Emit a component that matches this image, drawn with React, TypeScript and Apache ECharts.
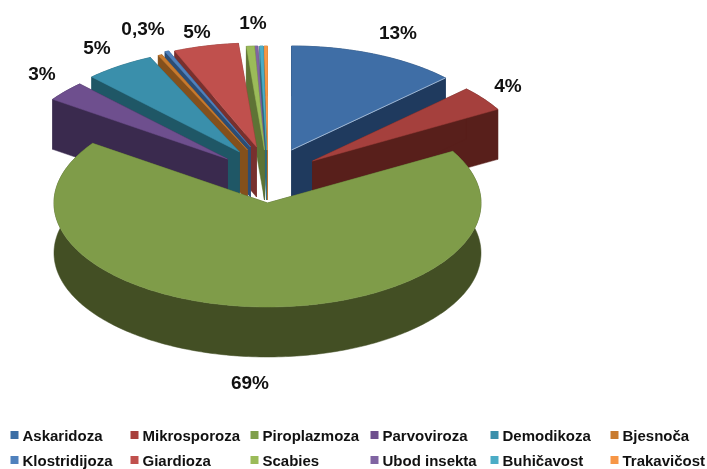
import React, { useEffect, useRef } from "react";
import * as echarts from "echarts";

const categories = ["Askaridoza", "Mikrosporoza", "Piroplazmoza", "Parvoviroza", "Demodikoza", "Bjesnoča", "Klostridijoza", "Giardioza", "Scabies", "Ubod insekta", "Buhičavost", "Trakavičost"];
const values = [12.8, 3.9, 67.9, 3.1, 5.3, 0.3, 0.3, 4.9, 0.6, 0.25, 0.25, 0.25];
const pointLabels = ["13%", "4%", "69%", "3%", "5%", "0,3%", "", "5%", "1%", "", "", ""];

const topColors = ["#3F6EA6", "#A5403D", "#7F9C49", "#6E4F8E", "#3A8FAB", "#C87A2E", "#4F81BD", "#C0504D", "#9BBB59", "#8064A2", "#4BACC6", "#F79646"];
const sideColors = ["#1F3A5E", "#581F1B", "#434F24", "#3A2A4E", "#1F5766", "#84501C", "#2C4D75", "#78302E", "#5E7335", "#4D3B62", "#2B6B7C", "#B66A22"];
const legendColors = ["#3B6EA5", "#A83F3C", "#7F9F4A", "#6E4F8E", "#3A8FAB", "#C87A2E", "#4F81BD", "#C0504D", "#9BBB59", "#8064A2", "#4BACC6", "#F79646"];
const explodeOffsets = [[24, -53], [45, -42], [0, 0], [-40, -44], [-28, -51], [-20, -53], [-17, -56], [-11, -56], [-3, -53], [-3, -53], [-1, -53], [0, -53]];
const labelAnchors = [[398, 32], [508, 85], [250, 382], [42, 73], [97, 47], [143, 28], [0, 0], [197, 31], [253, 22], [0, 0], [0, 0], [0, 0]];
const paintOrder = [11, 10, 9, 8, 7, 6, 5, 4, 3, 0, 1, 2];

const CX = 267.5, CY = 203, RX = 213.5, RY = 104, DEPTH = 50;
const total = values.reduce((s, v) => s + v, 0);
const starts: number[] = [];
values.reduce((acc, v, i) => { starts[i] = acc; return acc + v; }, 0);

function sliceShapes(index: number, value: number) {
  const [dx, dy] = explodeOffsets[index];
  const ox = CX + dx, oy = CY + dy;
  const a0 = (starts[index] / total) * Math.PI * 2;
  const a1 = a0 + (value / total) * Math.PI * 2;
  const n = Math.max(2, Math.ceil(((a1 - a0) * 180) / Math.PI));
  const arc: number[][] = [];
  for (let i = 0; i <= n; i++) {
    const t = a0 + ((a1 - a0) * i) / n;
    arc.push([ox + RX * Math.sin(t), oy - RY * Math.cos(t)]);
  }
  const down = (p: number[]) => [p[0], p[1] + DEPTH];
  const apex = [ox, oy];
  const first = arc[0], last = arc[arc.length - 1];
  return {
    apex,
    last,
    top: [apex, ...arc],
    faceStart: [apex, first, down(first), down(apex)],
    faceEnd: [apex, last, down(last), down(apex)],
    side: [...arc, ...arc.slice().reverse().map(down)],
  };
}

const font = "bold 19px 'Liberation Sans', Arial, sans-serif";

const series = paintOrder.map((i) => ({
  type: "custom",
  name: categories[i],
  coordinateSystem: "none",
  silent: true,
  itemStyle: { color: legendColors[i] },
  data: [[values[i]]],
  renderItem: (_p: any, api: any) => {
    const s = sliceShapes(i, api.value(0));
    const sideStyle = { fill: sideColors[i], stroke: sideColors[i], lineWidth: 0.5 };
    const children: any[] = [
      { type: "polygon", shape: { points: s.side }, style: sideStyle },
      { type: "polygon", shape: { points: s.faceEnd }, style: sideStyle },
      { type: "polygon", shape: { points: s.faceStart }, style: sideStyle },
      { type: "polygon", shape: { points: s.top }, style: { fill: topColors[i], stroke: topColors[i], lineWidth: 0.5 } },
    ];
    if (i === 0) {
      children.push({ type: "polyline", shape: { points: [s.apex, s.last] }, style: { stroke: "#9fb6d2", lineWidth: 1, fill: "none" } });
    }
    return { type: "group", children };
  },
}));

const COL0 = 10.5, COL_STEP = 120;
const legends = categories.map((name, i) => ({
  show: true,
  data: [name],
  left: COL0 + (i % 6) * COL_STEP,
  top: i < 6 ? 427.5 : 452.5,
  padding: 0,
  icon: "rect",
  itemWidth: 8,
  itemHeight: 8,
  itemGap: 0,
  selectedMode: false,
  textStyle: { fontFamily: "'Liberation Sans', Arial, sans-serif", fontWeight: "bold", fontSize: 15, color: "#111111", padding: [0, 0, 0, -1] },
}));

const graphics = pointLabels
  .map((text, i) => ({ text, i }))
  .filter((d) => d.text)
  .map(({ text, i }) => ({
    type: "text",
    x: labelAnchors[i][0],
    y: labelAnchors[i][1],
    z: 100,
    style: { text, font, fill: "#111111", align: "center", verticalAlign: "middle" },
  }));

export default function App() {
  const ref = useRef<HTMLDivElement>(null);
  useEffect(() => {
    const chart = echarts.init(ref.current!, null, { renderer: "svg" });
    chart.setOption({
      animation: false,
      backgroundColor: "#ffffff",
      legend: legends,
      series,
      graphic: graphics,
    });
    return () => chart.dispose();
  }, []);
  return <div ref={ref} style={{ position: "absolute", left: 0, top: 0, width: 707, height: 469, filter: "blur(0.6px)" }} />;
}
